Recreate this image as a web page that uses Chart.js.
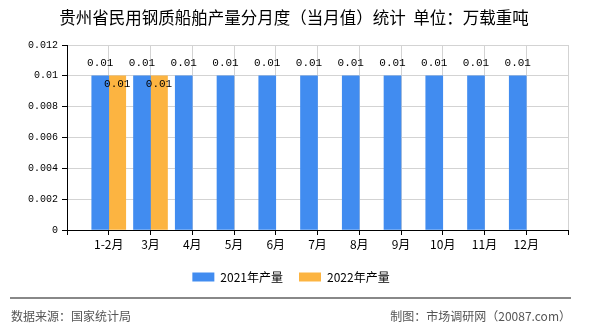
<!DOCTYPE html>
<html>
<head>
<meta charset="utf-8">
<script src="https://cdn.jsdelivr.net/npm/chart.js@4"></script>
<style>
  html, body { margin: 0; padding: 0; background: #fff; }
  #wrap { width: 590px; height: 330px; position: relative; }
</style>
</head>
<body>
<div id="wrap"><canvas id="shipChart"></canvas></div>
<script>
const months = ['1-2月', '3月', '4月', '5月', '6月', '7月', '8月', '9月', '10月', '11月', '12月'];
const output2021 = [0.01, 0.01, 0.01, 0.01, 0.01, 0.01, 0.01, 0.01, 0.01, 0.01, 0.01];
const output2022 = [0.01, 0.01];
const yTicks = [0, 0.002, 0.004, 0.006, 0.008, 0.01, 0.012];

const CJK = '"Noto Sans CJK SC", "Noto Sans", sans-serif';
const MONO = '"Liberation Mono", "DejaVu Sans Mono", monospace';

// category axis has an empty slot at each end, the months sit on the grid lines
const labels = [''].concat(months, ['']);
function pad(arr) {
  const out = [null];
  for (let i = 0; i < months.length; i++) out.push(i < arr.length ? arr[i] : null);
  out.push(null);
  return out;
}

const valueLabels = {
  id: 'valueLabels',
  afterDatasetsDraw(chart) {
    const ctx = chart.ctx;
    ctx.save();
    ctx.font = '11px ' + MONO;
    ctx.fillStyle = '#000';
    ctx.textAlign = 'center';
    ctx.textBaseline = 'middle';
    chart.data.datasets.forEach((ds, di) => {
      const meta = chart.getDatasetMeta(di);
      meta.data.forEach((bar, i) => {
        const v = ds.data[i];
        if (v == null) return;
        const dy = di === 0 ? -13 : 8;
        ctx.fillText(String(v), bar.x, bar.y + dy);
      });
    });
    ctx.restore();
  }
};

const frame = {
  id: 'frame',
  beforeDraw(chart) {
    // center legend on the page rather than on the padded box
    const lg = chart.legend;
    if (lg) {
      lg.left = 0; lg.right = 582;
      lg.top -= 5; lg.bottom -= 5;
    }
  },
  afterDraw(chart) {
    const ctx = chart.ctx;
    ctx.save();
    ctx.fillStyle = '#000';
    ctx.font = '16.5px ' + CJK;
    ctx.textAlign = 'center';
    ctx.textBaseline = 'middle';
    ctx.fillText('贵州省民用钢质船舶产量分月度（当月值）统计  单位：万载重吨', 294, 18);

    ctx.strokeStyle = '#888';
    ctx.lineWidth = 2;
    ctx.beginPath();
    ctx.moveTo(10, 298);
    ctx.lineTo(571, 298);
    ctx.stroke();

    ctx.fillStyle = '#555';
    ctx.font = '12px ' + CJK;
    ctx.textAlign = 'left';
    ctx.fillText('数据来源：国家统计局', 11, 316);
    ctx.textAlign = 'right';
    ctx.fillText('制图：市场调研网（20087.com）', 571, 316);
    ctx.restore();
  }
};

new Chart(document.getElementById('shipChart'), {
  type: 'bar',
  data: {
    labels: labels,
    datasets: [
      { label: '2021年产量', data: pad(output2021), backgroundColor: '#418CF0' },
      { label: '2022年产量', data: pad(output2022), backgroundColor: '#FCB441' }
    ]
  },
  options: {
    responsive: true,
    maintainAspectRatio: false,
    animation: false,
    barThickness: 17,
    layout: { padding: { left: 0, right: 22, top: 45, bottom: 32 } },
    plugins: {
      title: { display: false },
      tooltip: { enabled: false },
      legend: {
        position: 'bottom',
        labels: {
          boxWidth: 22,
          boxHeight: 9,
          padding: 16,
          color: '#000',
          font: { size: 12, family: CJK }
        }
      }
    },
    scales: {
      x: {
        offset: false,
        grid: { color: '#d3d3d3', tickColor: '#000', tickLength: 5, offset: false },
        border: { color: '#000', width: 1 },
        ticks: { color: '#000', font: { size: 12, family: CJK }, padding: 2, maxRotation: 0, autoSkip: false },
        afterFit(scale) { scale.height = 30; }
      },
      y: {
        min: 0,
        max: 0.012,
        afterBuildTicks(scale) { scale.ticks = yTicks.map(v => ({ value: v })); },
        grid: { color: '#d3d3d3', tickColor: '#000', tickLength: 5 },
        border: { color: '#000', width: 1 },
        ticks: {
          color: '#000',
          font: { size: 10, family: MONO },
          padding: 4,
          callback: v => String(v)
        },
        afterFit(scale) { scale.width = 67; }
      }
    }
  },
  plugins: [valueLabels, frame]
});
</script>
</body>
</html>
